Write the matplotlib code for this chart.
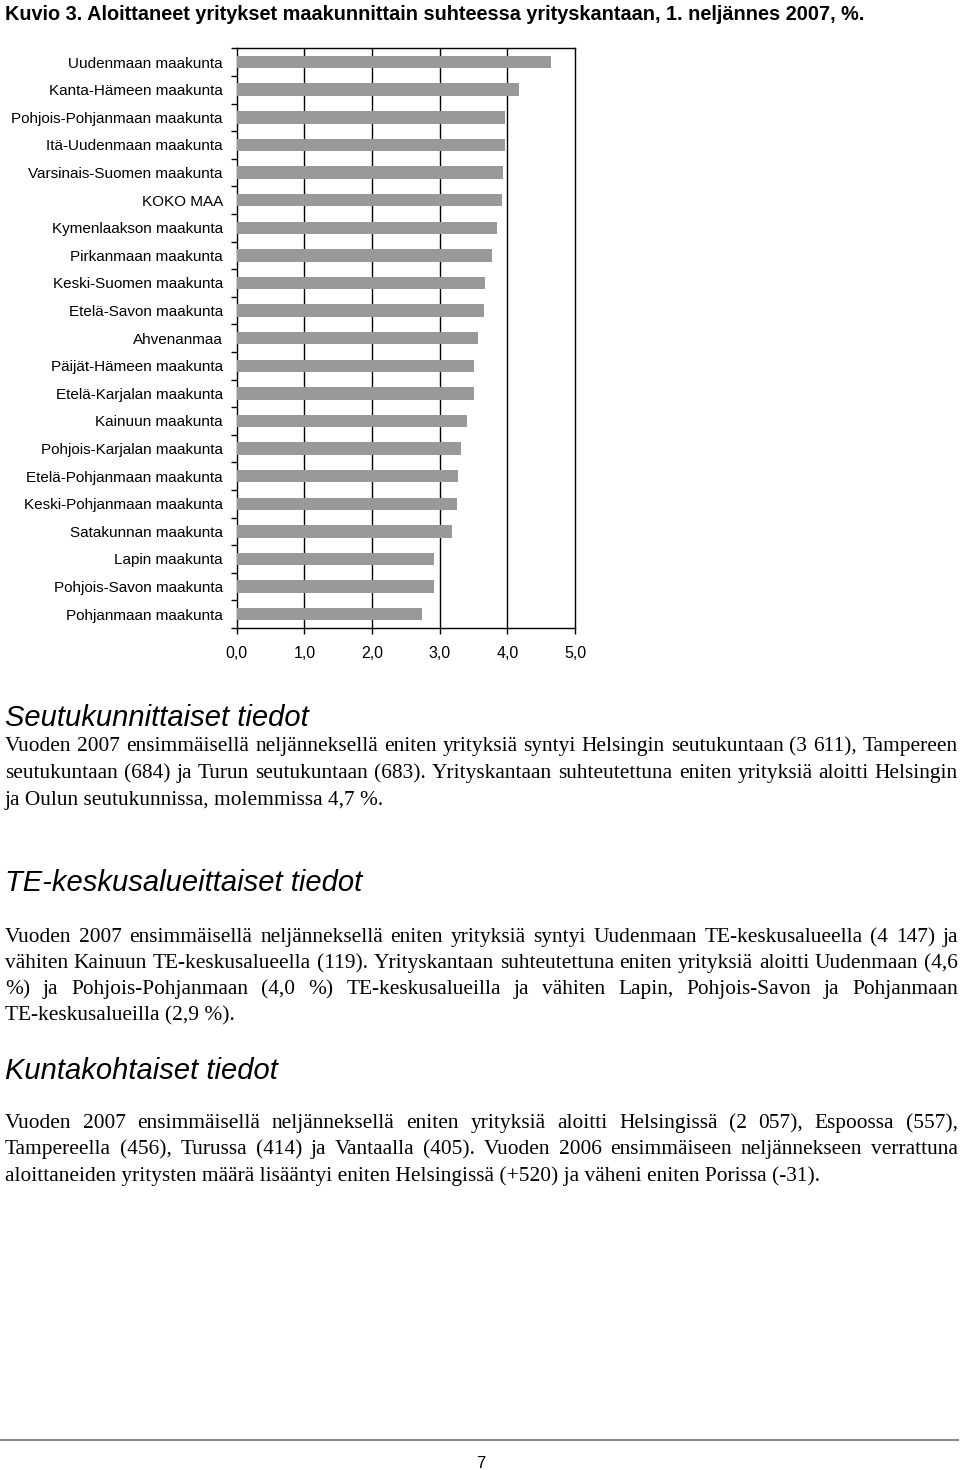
import matplotlib
matplotlib.use("Agg")
import matplotlib.pyplot as plt
from matplotlib.ticker import FixedLocator
import numpy as np

# ---------------- data ----------------
regions = [
    "Uudenmaan maakunta", "Kanta-Hämeen maakunta", "Pohjois-Pohjanmaan maakunta",
    "Itä-Uudenmaan maakunta", "Varsinais-Suomen maakunta", "KOKO MAA",
    "Kymenlaakson maakunta", "Pirkanmaan maakunta", "Keski-Suomen maakunta",
    "Etelä-Savon maakunta", "Ahvenanmaa", "Päijät-Hämeen maakunta",
    "Etelä-Karjalan maakunta", "Kainuun maakunta", "Pohjois-Karjalan maakunta",
    "Etelä-Pohjanmaan maakunta", "Keski-Pohjanmaan maakunta", "Satakunnan maakunta",
    "Lapin maakunta", "Pohjois-Savon maakunta", "Pohjanmaan maakunta",
]
values = [4.65, 4.17, 3.97, 3.97, 3.94, 3.92, 3.85, 3.78, 3.67, 3.66, 3.57,
          3.51, 3.51, 3.41, 3.32, 3.27, 3.25, 3.18, 2.91, 2.91, 2.74]
xticks = [0, 1, 2, 3, 4, 5]
xticklabels = ["0,0", "1,0", "2,0", "3,0", "4,0", "5,0"]

title = "Kuvio 3. Aloittaneet yritykset maakunnittain suhteessa yrityskantaan, 1. neljännes 2007, %."

heading1 = "Seutukunnittaiset tiedot"
para1 = [
    "Vuoden 2007 ensimmäisellä neljänneksellä eniten yrityksiä syntyi Helsingin seutukuntaan (3 611), Tampereen",
    "seutukuntaan (684) ja Turun seutukuntaan (683). Yrityskantaan suhteutettuna eniten yrityksiä aloitti Helsingin",
    "ja Oulun seutukunnissa, molemmissa 4,7 %.",
]
heading2 = "TE-keskusalueittaiset tiedot"
para2 = [
    "Vuoden 2007 ensimmäisellä neljänneksellä eniten yrityksiä syntyi Uudenmaan TE-keskusalueella (4 147) ja",
    "vähiten Kainuun TE-keskusalueella (119). Yrityskantaan suhteutettuna eniten yrityksiä aloitti Uudenmaan (4,6",
    "%) ja Pohjois-Pohjanmaan (4,0 %) TE-keskusalueilla ja vähiten Lapin, Pohjois-Savon ja Pohjanmaan",
    "TE-keskusalueilla (2,9 %).",
]
heading3 = "Kuntakohtaiset tiedot"
para3 = [
    "Vuoden 2007 ensimmäisellä neljänneksellä eniten yrityksiä aloitti Helsingissä (2 057), Espoossa (557),",
    "Tampereella (456), Turussa (414) ja Vantaalla (405). Vuoden 2006 ensimmäiseen neljännekseen verrattuna",
    "aloittaneiden yritysten määrä lisääntyi eniten Helsingissä (+520) ja väheni eniten Porissa (-31).",
]
page_number = "7"

# ---------------- figure ----------------
W, H = 960, 1470
fig = plt.figure(figsize=(W / 100, H / 100), dpi=100)
fig.patch.set_facecolor("white")

def fx(px):
    return px / W

def fy(py):
    return 1 - py / H

ax_left, ax_right, ax_top, ax_bottom = 236.7, 575.0, 48.3, 628.0
ax = fig.add_axes([fx(ax_left), fy(ax_bottom), fx(ax_right - ax_left), (ax_bottom - ax_top) / H])

ypos = np.arange(len(regions))
ax.barh(ypos, values, height=0.45, color="#999999", edgecolor="none", zorder=3)
ax.set_xlim(0, 5)
ax.set_ylim(len(regions) - 0.5, -0.5)

ax.set_xticks(xticks)
ax.set_xticklabels(xticklabels, fontsize=11.5, family=["Liberation Sans", "DejaVu Sans"])
ax.set_yticks(ypos)
ax.set_yticklabels(regions, fontsize=11, family=["Liberation Sans", "DejaVu Sans"])
ax.yaxis.set_minor_locator(FixedLocator(np.arange(-0.5, len(regions), 1.0)))
ax.tick_params(axis="y", which="major", length=0, pad=10)
ax.tick_params(axis="y", which="minor", length=4, width=1, direction="out", color="black")
ax.tick_params(axis="x", which="major", length=4, width=1, direction="out", pad=9, color="black")

for xv in xticks[1:-1]:
    ax.axvline(xv, color="black", lw=1, zorder=2)
for s in ax.spines.values():
    s.set_color("black")
    s.set_linewidth(1)

# ---------------- text ----------------
fig.text(fx(5), fy(14), title, fontsize=14.3, fontweight="bold",
         family=["Liberation Sans Narrow", "Liberation Sans", "DejaVu Sans"],
         ha="left", va="center")

head_family = ["Liberation Sans", "DejaVu Sans"]
body_family = ["Liberation Serif", "DejaVu Serif"]

fig.canvas.draw()
renderer = fig.canvas.get_renderer()

def width_of(s, size, family):
    t = fig.text(0, 0, s, fontsize=size, family=family)
    w = t.get_window_extent(renderer).width
    t.remove()
    return w

LEFT, RIGHT = 5.0, 958.0
target = RIGHT - LEFT
# font size so that the first line of the first paragraph spans the text width
w_ref = width_of(para1[0], 14, body_family)
body_size = 14 * target / w_ref * 0.995

def draw_para(lines, baselines):
    for i, (line, base) in enumerate(zip(lines, baselines)):
        last = i == len(lines) - 1
        if last:
            fig.text(fx(LEFT), fy(base), line, fontsize=body_size, family=body_family,
                     ha="left", va="baseline")
            continue
        words = line.split(" ")
        widths = [width_of(wd, body_size, body_family) for wd in words]
        gap = (target - sum(widths)) / (len(words) - 1)
        x = LEFT
        for wd, wdt in zip(words, widths):
            fig.text(fx(x), fy(base), wd, fontsize=body_size, family=body_family,
                     ha="left", va="baseline")
            x += wdt + gap

fig.text(fx(5), fy(726), heading1, fontsize=21, style="italic", family=head_family,
         ha="left", va="baseline")
draw_para(para1, [751, 778, 805])

fig.text(fx(5), fy(891), heading2, fontsize=21, style="italic", family=head_family,
         ha="left", va="baseline")
draw_para(para2, [942, 968, 994, 1020])

fig.text(fx(5), fy(1079), heading3, fontsize=21, style="italic", family=head_family,
         ha="left", va="baseline")
draw_para(para3, [1128, 1154, 1181])

fig.add_artist(plt.Line2D([fx(0), fx(958)], [fy(1440), fy(1440)], color="#888888", lw=1.5,
                          transform=fig.transFigure))
fig.text(fx(481), fy(1463), page_number, fontsize=12, family=head_family, ha="center", va="center")

fig.savefig("out.png", dpi=100, facecolor="white")
